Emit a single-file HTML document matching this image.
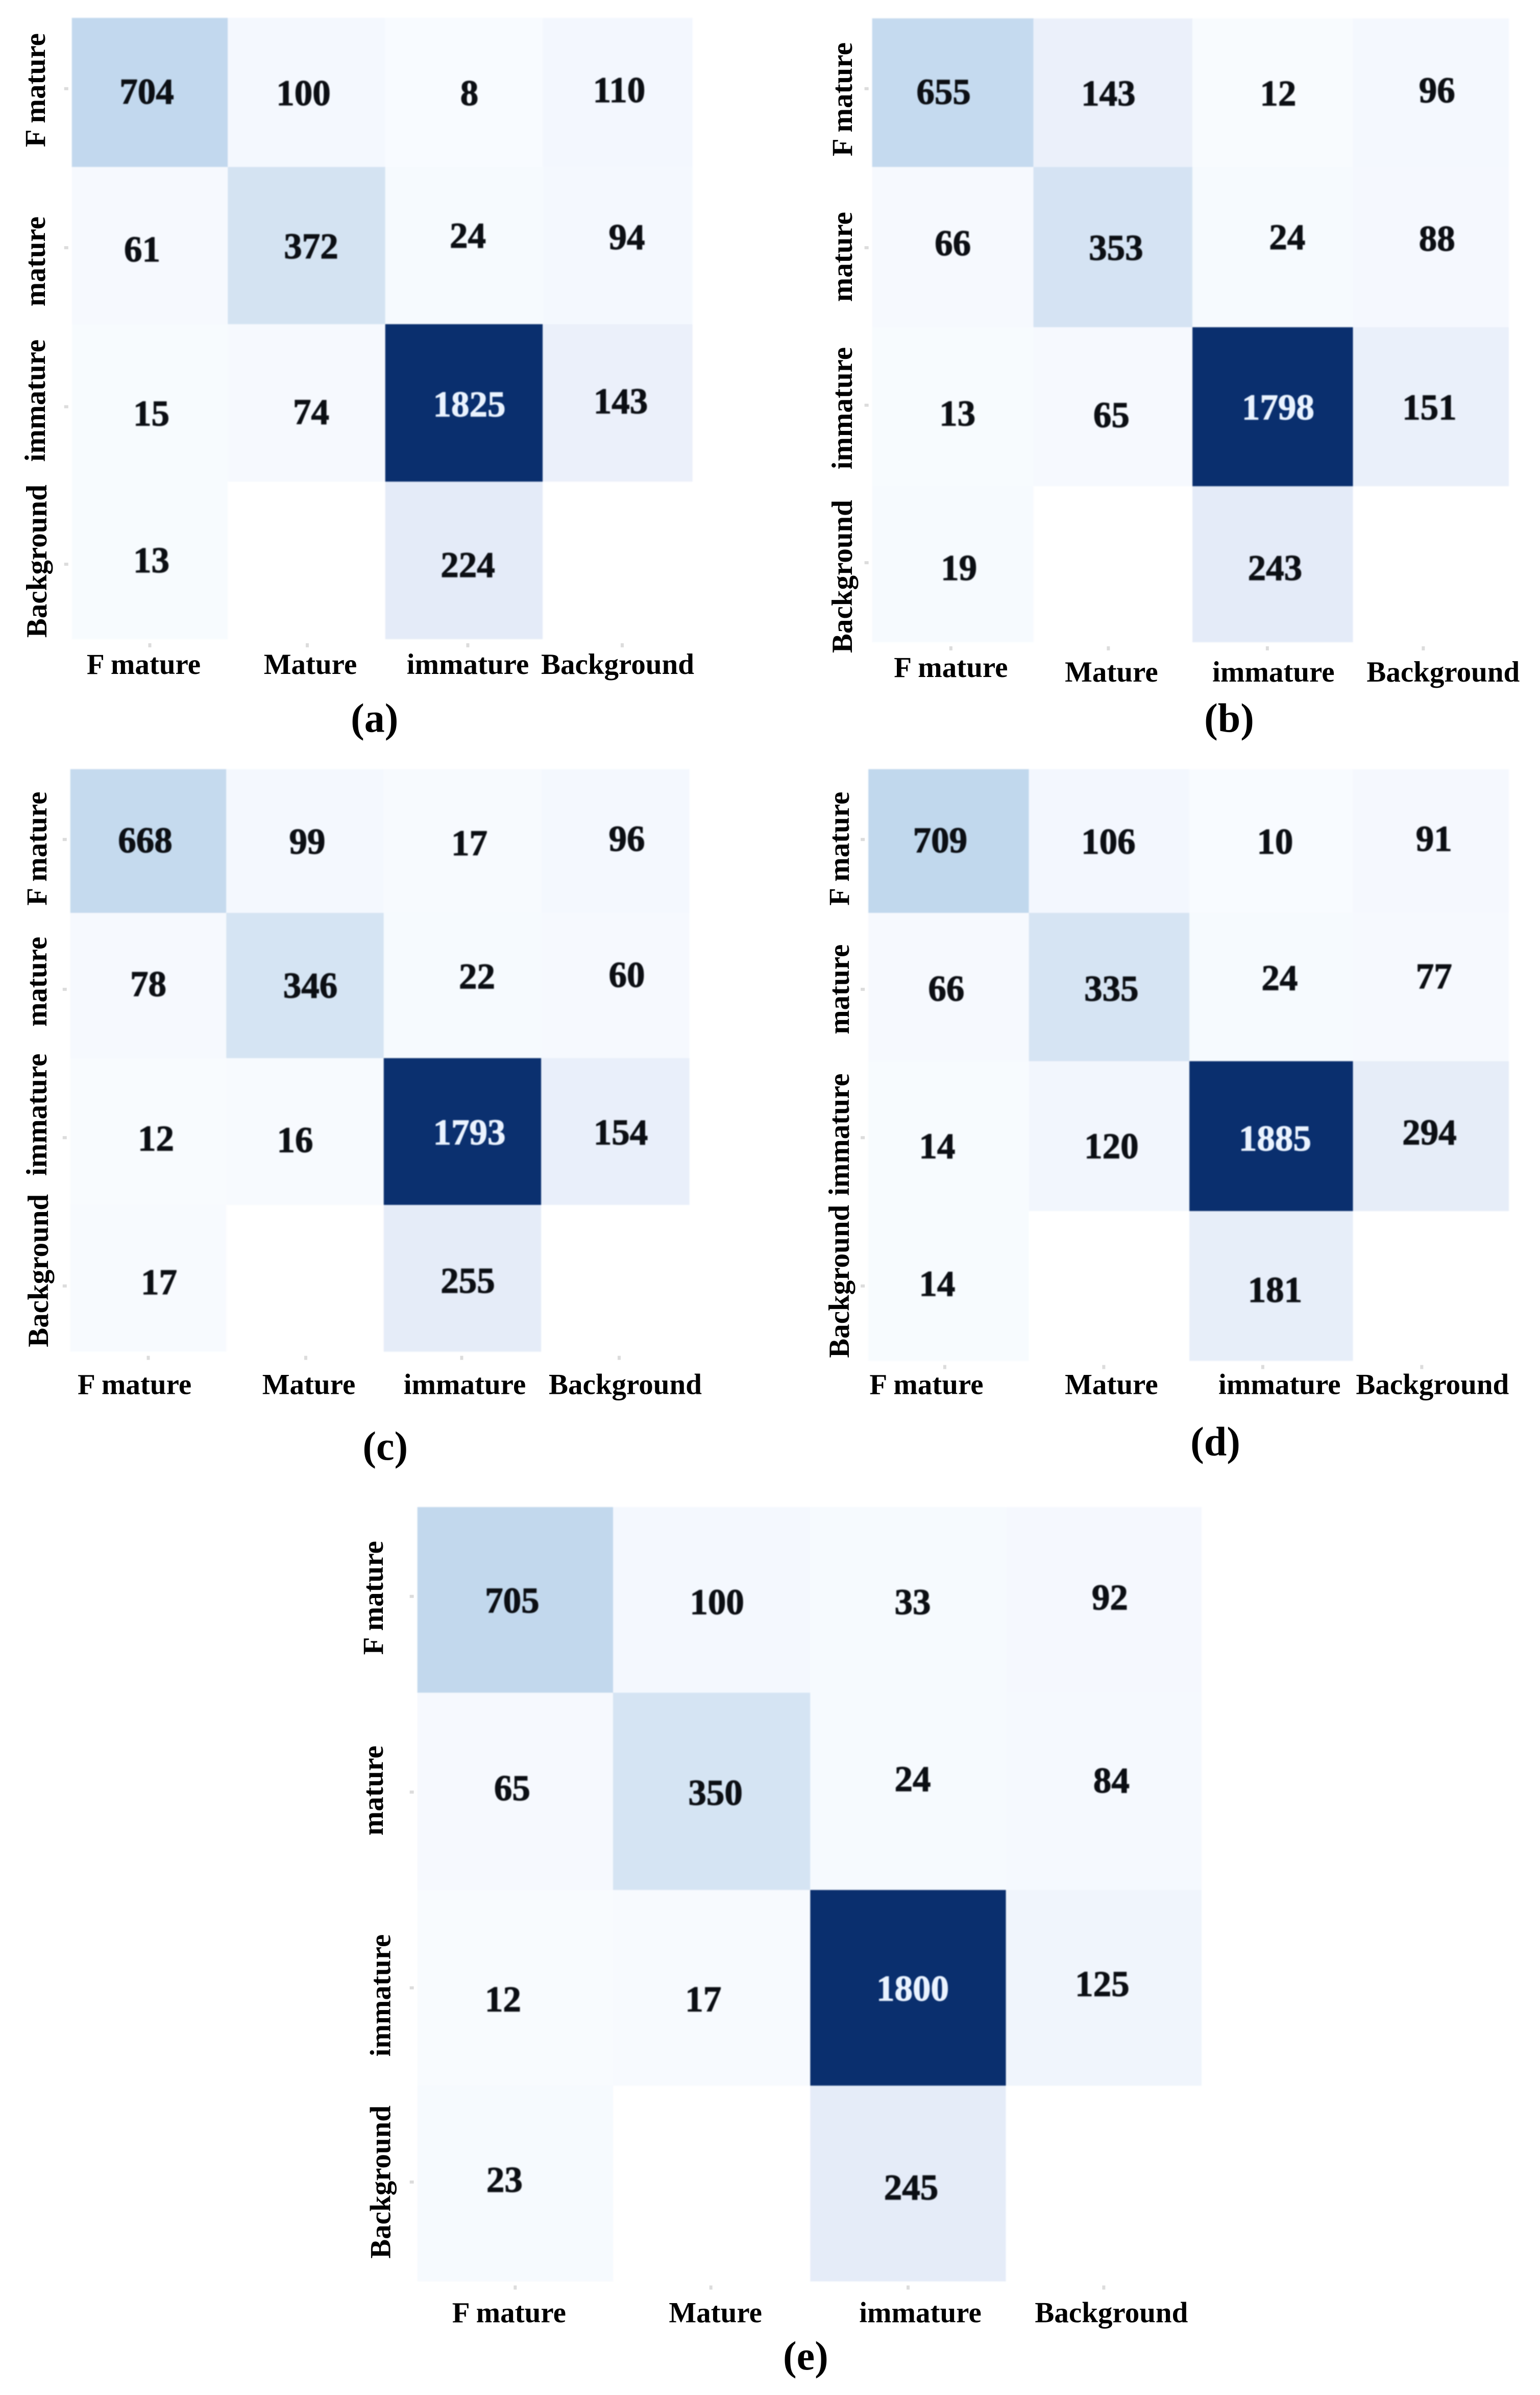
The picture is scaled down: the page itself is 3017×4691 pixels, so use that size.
<!DOCTYPE html>
<html lang="en">
<head>
<meta charset="utf-8">
<title>Confusion matrices</title>
<style>
html,body{margin:0;padding:0;background:#fff;}
svg{display:block;}
text{font-family:"Liberation Serif",serif;font-weight:bold;}
</style>
</head>
<body>
<svg id="figure" width="3017" height="4691" viewBox="0 0 3017 4691" xmlns="http://www.w3.org/2000/svg"></svg>
<script>
// ---- chart data ----
const xCategories = ["F mature", "Mature", "immature", "Background"];
const yCategories = ["F mature", "mature", "immature", "Background"];
const panelIds = ["a", "b", "c", "d", "e"];
const valuesA = [[704, 100, 8, 110], [61, 372, 24, 94], [15, 74, 1825, 143], [13, null, 224, null]];
const valuesB = [[655, 143, 12, 96], [66, 353, 24, 88], [13, 65, 1798, 151], [19, null, 243, null]];
const valuesC = [[668, 99, 17, 96], [78, 346, 22, 60], [12, 16, 1793, 154], [17, null, 255, null]];
const valuesD = [[709, 106, 10, 91], [66, 335, 24, 77], [14, 120, 1885, 294], [14, null, 181, null]];
const valuesE = [[705, 100, 33, 92], [65, 350, 24, 84], [12, 17, 1800, 125], [23, null, 245, null]];
const allValues = [valuesA, valuesB, valuesC, valuesD, valuesE];

// ---- colour scale ----
const colourDomain = [0, 20, 75, 100, 120, 145, 225, 300, 335, 700, 1800];
const colourRange = [[250,252,255],[246,250,254],[246,249,254],[244,248,254],[242,246,253],[234,240,250],[228,235,248],[230,237,248],[214,228,243],[195,217,238],[10,47,110]];

// ---- layout (geometry only, separate from the data) ----
const S = 2.995;
const layouts = {
  a: {gx:[47,149,252,355,453], gy:[11.7,109.2,212,315,418], yLabelX:[23,23,23,24], yLabelY:[59,171,262,367], xLabelX:[94,203,306,404], xLabelY:[436,436,436,436], cap:[245,472], tickX:[98,201,306,407], tickY:[58,162,266,369], nudges:[[[-2,0],[-2,1],[3.5,1],[1,-1]],[[-5,3],[3,1],[2.5,-6],[6,-5]],[[1,7.5],[3,6.5],[3.5,1.5],[2,-0.5]],[[1,0.5],[0,0],[2.5,3.5],[0,0]]]},
  b: {gx:[570.5,676,780,885,987], gy:[12,109.2,214,318,420], yLabelX:[551,551,551,551], yLabelY:[65,168,267,377], xLabelX:[622,727,833,944], xLabelY:[438,441,441,441], cap:[804,472], tickX:[622,725,829,931], tickY:[58,162,265,368], nudges:[[[-6,0],[-3,1],[3.5,1],[4,-1]],[[0,-2],[2,1],[9.5,-6],[4,-5]],[[3,5],[-1,6],[3.5,1],[-1,1]],[[4,3],[0,0],[1.5,3],[0,0]]]},
  c: {gx:[46,148,251,354,451], gy:[503,597,692,788,884], yLabelX:[24,24,24,25], yLabelY:[555,642,729,831], xLabelX:[88,202,304,409], xLabelY:[907,907,907,907], cap:[252,948], tickX:[97,200,302,405], tickY:[549,647,744,841], nudges:[[[-2,0],[1.5,1],[4.5,2],[7.5,-1]],[[0,-0.5],[3.5,0.5],[9.5,-5.5],[7.5,-6.5]],[[5,5],[-6.5,6],[4.5,1],[3.5,1]],[[7,3],[0,0],[3.5,2],[0,0]]]},
  d: {gx:[568,673,778,885,987], gy:[503,597,694,792,890], yLabelX:[549,549,549,549], yLabelY:[555,647,742,838], xLabelX:[606,727,837,937], xLabelY:[907,907,907,907], cap:[795,945], tickX:[618,722,826,930], tickY:[549,647,744,841], nudges:[[[-5.5,0],[-0.5,1],[2.5,1],[2,-1]],[[-1.5,1.5],[1.5,1.5],[5.5,-5.5],[2,-6.5]],[[-7.5,7],[1.5,7],[2.5,2],[-1,-2]],[[-7.5,-1],[0,0],[2.5,3],[0,0]]]},
  e: {gx:[273,401,530,658,786], gy:[985.6,1107,1236,1364,1492], yLabelX:[244,244,249,249], yLabelY:[1045,1171,1305,1427], xLabelX:[333,468,602,727], xLabelY:[1514,1514,1514,1514], cap:[527,1543], tickX:[337,465,594,722], tickY:[1044,1172,1300,1427], nudges:[[[-2,1],[3.5,2],[3,2],[4,-1]],[[-2,-1.5],[2.5,1.5],[3,-7.5],[5,-6.5]],[[-8,8],[-5.5,8],[3,1],[-1,-2]],[[-7,-2],[0,0],[2,3],[0,0]]]}
};

const NS = "http://www.w3.org/2000/svg";
const root = document.getElementById("figure");

function make(tag, attrs, parent) {
  const el = document.createElementNS(NS, tag);
  for (const k in attrs) el.setAttribute(k, attrs[k]);
  parent.appendChild(el);
  return el;
}

function colourFor(v) {
  if (v === null) return "rgb(255,255,255)";
  let i = 0;
  while (i < colourDomain.length - 2 && v > colourDomain[i + 1]) i++;
  const t = Math.min(1, (v - colourDomain[i]) / (colourDomain[i + 1] - colourDomain[i]));
  const c = colourRange[i].map((a, k) => Math.round(a + (colourRange[i + 1][k] - a) * t));
  return "rgb(" + c.join(",") + ")";
}

function px(u) { return u * S; }
function xScale(lay, col) { return px(lay.gx[col]); }
function yScale(lay, row) { return px(lay.gy[row]); }

panelIds.forEach((id, p) => {
  const lay = layouts[id];
  const values = allValues[p];
  const panel = make("g", {}, root);
  
  

  const cellGroup = make("g", {style: "filter:blur(1px)"}, panel);
  
  
  values.forEach((rowVals, r) => rowVals.forEach((v, c) => {
    const cell = make("rect", {
      x: xScale(lay, c), y: yScale(lay, r),
      width: xScale(lay, c + 1) - xScale(lay, c),
      height: yScale(lay, r + 1) - yScale(lay, r),
      fill: colourFor(v)
    }, cellGroup);
    
    
  }));

  const valueGroup = make("g", {style: "filter:blur(1px)"}, panel);
  
  
  values.forEach((rowVals, r) => rowVals.forEach((v, c) => {
    if (v === null) return;
    const n = lay.nudges[r][c];
    const cx = (xScale(lay, c) + xScale(lay, c + 1)) / 2 + px(n[0]);
    const cy = (yScale(lay, r) + yScale(lay, r + 1)) / 2 + px(n[1]);
    const colour = v > 1000 ? "#eaf3ff" : "#0c0f14";
    const t = make("text", {
      x: cx, y: cy + 22, "text-anchor": "middle", "font-size": 71,
      fill: colour, stroke: colour, "stroke-width": 1.2
    }, valueGroup);
    
    
    t.textContent = String(v);
  }));

  yCategories.forEach((name, i) => {
    const lx = px(lay.yLabelX[i]) + 19, ly = px(lay.yLabelY[i]);
    const t = make("text", {
      x: lx, y: ly, "text-anchor": "middle", "font-size": 57, fill: "#000",
      transform: "rotate(-90 " + lx + " " + ly + ")"
    }, panel);
    
    
    t.textContent = name;
    const tick = make("rect", {x: xScale(lay, 0) - 15, y: px(lay.tickY[i]) - 3, width: 8, height: 6, fill: "#dcdcdc"}, panel);
    
    
  });

  xCategories.forEach((name, i) => {
    const t = make("text", {
      x: px(lay.xLabelX[i]), y: px(lay.xLabelY[i]) + 14,
      "text-anchor": "middle", "font-size": 57, fill: "#000"
    }, panel);
    
    
    t.textContent = name;
    const tick = make("rect", {x: px(lay.tickX[i]) - 3, y: yScale(lay, 4) + 8, width: 6, height: 8, fill: "#dcdcdc"}, panel);
    
    
  });

  const cap = make("text", {
    x: px(lay.cap[0]), y: px(lay.cap[1]) + 20,
    "text-anchor": "middle", "font-size": 80, fill: "#000"
  }, panel);
  
  
  cap.textContent = "(" + id + ")";
});
</script>
</body>
</html>
